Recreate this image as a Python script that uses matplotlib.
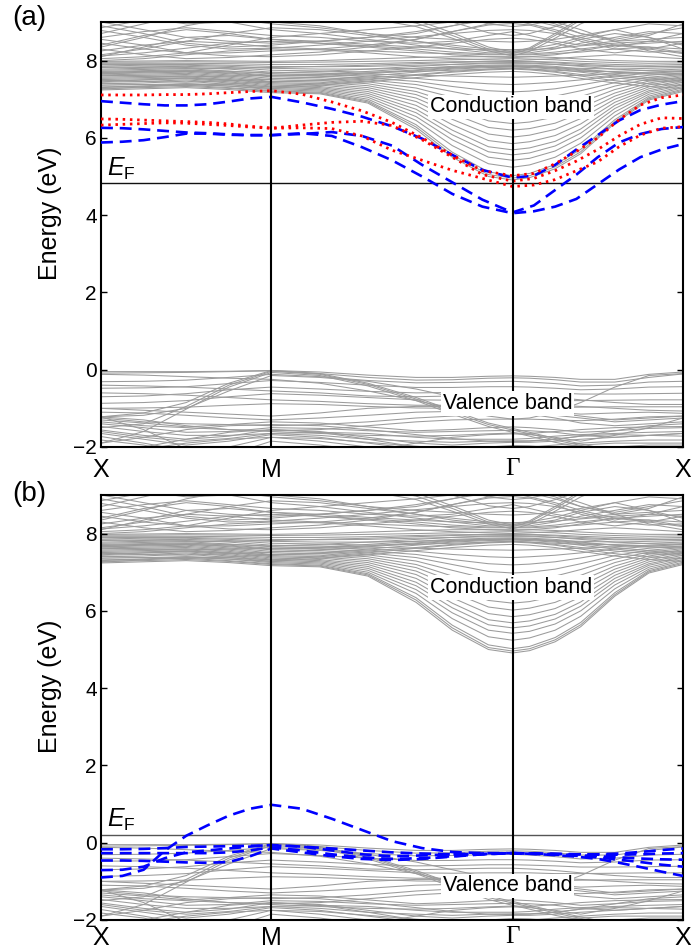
"""
Band structure of a doped slab along X-M-Gamma-X, two configurations:
(a) with defect states inside the gap, (b) with defect states near the valence band.
"""
import numpy as np
import matplotlib
matplotlib.use("Agg")
from matplotlib import pyplot as plt

plt.rcParams['font.family'] = ['Liberation Sans', 'DejaVu Sans']
plt.rcParams['mathtext.fontset'] = 'custom'
plt.rcParams['mathtext.rm'] = 'Liberation Sans'
plt.rcParams['mathtext.it'] = 'Liberation Sans:italic'

# high-symmetry points of the square lattice path
K_LABELS = ['X', 'M', 'Γ', 'X']
K_POINTS = [0.0, 1.0, 1.0 + np.sqrt(2.0), 2.0 + np.sqrt(2.0)]

# k sampling of the host bands (fractions of each segment X-M, M-G, G-X)
HOST_FRACTIONS = [[0, .25, .5, .75, 1],
                  [.2, .4, .6, .75, .9, 1],
                  [.1, .25, .4, .6, .8, 1]]
# k sampling of the defect bands
DEFECT_FRACTIONS = [[0, .125, .25, .375, .5, .625, .75, .875, 1],
                    [.125, .25, .375, .5, .625, .75, .875, 1],
                    [.125, .25, .375, .5, .625, .75, .875, 1]]

E_FERMI_A = 4.82
E_FERMI_B = 0.20

# host conduction bands dipping towards Gamma (eV)
CB_NESTED = [
    [7.24, 7.27, 7.30, 7.25, 7.17, 7.14, 6.90, 6.22, 5.50, 5.00, 4.91, 4.97, 5.20, 5.59, 6.38, 6.98, 7.20],
    [7.28, 7.30, 7.33, 7.28, 7.20, 7.16, 6.93, 6.28, 5.56, 5.05, 4.96, 5.02, 5.25, 5.64, 6.42, 7.01, 7.23],
    [7.32, 7.34, 7.36, 7.30, 7.22, 7.18, 6.96, 6.34, 5.63, 5.12, 5.02, 5.08, 5.31, 5.70, 6.47, 7.04, 7.26],
    [7.36, 7.38, 7.40, 7.34, 7.25, 7.21, 7.00, 6.45, 5.80, 5.33, 5.24, 5.30, 5.50, 5.86, 6.57, 7.08, 7.30],
    [7.40, 7.42, 7.47, 7.38, 7.28, 7.24, 7.05, 6.55, 5.95, 5.50, 5.42, 5.47, 5.66, 6.00, 6.67, 7.13, 7.33],
    [7.44, 7.46, 7.50, 7.42, 7.31, 7.27, 7.10, 6.65, 6.08, 5.64, 5.56, 5.61, 5.79, 6.12, 6.76, 7.18, 7.37],
    [7.48, 7.50, 7.53, 7.45, 7.34, 7.30, 7.15, 6.74, 6.20, 5.77, 5.69, 5.74, 5.91, 6.23, 6.84, 7.22, 7.40],
    [7.51, 7.53, 7.55, 7.48, 7.37, 7.33, 7.20, 6.84, 6.34, 5.93, 5.85, 5.90, 6.06, 6.36, 6.92, 7.27, 7.44],
    [7.54, 7.56, 7.58, 7.51, 7.40, 7.37, 7.25, 6.94, 6.48, 6.10, 6.02, 6.07, 6.22, 6.50, 7.00, 7.32, 7.48],
    [7.57, 7.59, 7.61, 7.54, 7.43, 7.40, 7.30, 7.03, 6.63, 6.27, 6.20, 6.24, 6.38, 6.64, 7.08, 7.37, 7.52],
    [7.60, 7.62, 7.64, 7.57, 7.46, 7.44, 7.35, 7.12, 6.77, 6.44, 6.37, 6.41, 6.54, 6.78, 7.16, 7.42, 7.55],
    [7.63, 7.65, 7.67, 7.60, 7.50, 7.48, 7.40, 7.20, 6.90, 6.62, 6.56, 6.60, 6.71, 6.92, 7.25, 7.47, 7.58],
    [7.66, 7.68, 7.70, 7.63, 7.54, 7.52, 7.45, 7.29, 7.05, 6.82, 6.77, 6.80, 6.90, 7.07, 7.34, 7.52, 7.61],
    [7.69, 7.71, 7.73, 7.66, 7.58, 7.56, 7.50, 7.38, 7.20, 7.02, 6.98, 7.00, 7.08, 7.22, 7.43, 7.57, 7.64],
    [7.72, 7.74, 7.76, 7.70, 7.62, 7.60, 7.55, 7.46, 7.33, 7.22, 7.19, 7.21, 7.27, 7.37, 7.52, 7.62, 7.68],
    [7.75, 7.77, 7.79, 7.73, 7.66, 7.64, 7.60, 7.54, 7.46, 7.40, 7.38, 7.40, 7.44, 7.50, 7.60, 7.67, 7.72],
]

# host conduction bands in the flat, dense part around 7.3-8.1 eV
CB_FLAT = [
    [7.78, 7.80, 7.82, 7.78, 7.70, 7.68, 7.65, 7.62, 7.60, 7.58, 7.57, 7.58, 7.60, 7.62, 7.66, 7.70, 7.74],
    [7.82, 7.84, 7.85, 7.82, 7.75, 7.73, 7.70, 7.72, 7.75, 7.78, 7.80, 7.78, 7.75, 7.72, 7.72, 7.75, 7.78],
    [7.86, 7.88, 7.88, 7.85, 7.80, 7.78, 7.78, 7.80, 7.83, 7.85, 7.86, 7.85, 7.82, 7.80, 7.78, 7.80, 7.82],
    [7.90, 7.90, 7.90, 7.88, 7.85, 7.84, 7.85, 7.88, 7.90, 7.92, 7.92, 7.92, 7.90, 7.87, 7.84, 7.84, 7.86],
    [7.93, 7.93, 7.93, 7.92, 7.90, 7.90, 7.92, 7.95, 7.97, 7.98, 7.98, 7.98, 7.96, 7.93, 7.90, 7.88, 7.90],
    [7.96, 7.96, 7.97, 7.96, 7.95, 7.96, 7.98, 8.00, 8.02, 8.04, 8.05, 8.04, 8.02, 7.98, 7.95, 7.93, 7.94],
    [7.30, 7.34, 7.40, 7.38, 7.32, 7.40, 7.50, 7.62, 7.70, 7.76, 7.78, 7.76, 7.70, 7.60, 7.48, 7.40, 7.35],
    [7.45, 7.50, 7.55, 7.50, 7.45, 7.50, 7.60, 7.70, 7.78, 7.82, 7.83, 7.82, 7.78, 7.70, 7.60, 7.52, 7.48],
    [7.62, 7.60, 7.58, 7.60, 7.62, 7.65, 7.72, 7.80, 7.85, 7.88, 7.89, 7.88, 7.85, 7.78, 7.70, 7.65, 7.63],
    [7.70, 7.72, 7.74, 7.72, 7.68, 7.72, 7.78, 7.85, 7.90, 7.94, 7.95, 7.94, 7.90, 7.85, 7.78, 7.74, 7.72],
    [7.26, 7.32, 7.38, 7.34, 7.28, 7.36, 7.45, 7.56, 7.64, 7.70, 7.72, 7.70, 7.64, 7.54, 7.42, 7.33, 7.28],
    [7.50, 7.46, 7.44, 7.48, 7.52, 7.58, 7.66, 7.74, 7.80, 7.84, 7.85, 7.84, 7.80, 7.74, 7.64, 7.56, 7.52],
    [7.66, 7.70, 7.72, 7.68, 7.60, 7.62, 7.68, 7.76, 7.82, 7.86, 7.87, 7.86, 7.82, 7.76, 7.70, 7.68, 7.67],
    [7.84, 7.82, 7.80, 7.80, 7.82, 7.85, 7.88, 7.92, 7.95, 7.97, 7.97, 7.97, 7.94, 7.90, 7.86, 7.85, 7.84],
    [7.98, 7.99, 8.00, 7.99, 7.98, 8.00, 8.04, 8.08, 8.10, 8.10, 8.10, 8.10, 8.08, 8.04, 8.00, 7.98, 7.98],
    [7.40, 7.38, 7.36, 7.40, 7.45, 7.48, 7.55, 7.64, 7.72, 7.78, 7.80, 7.78, 7.72, 7.64, 7.55, 7.48, 7.44],
]

# host conduction bands above 8 eV
CB_UPPER = [
    [9.50, 9.50, 9.50, 9.50, 9.50, 9.40, 9.20, 8.97, 8.65, 8.30, 8.18, 8.30, 8.65, 9.05, 9.40, 9.50, 9.50],
    [9.50, 9.50, 9.50, 9.50, 9.50, 9.50, 9.30, 9.05, 8.72, 8.35, 8.22, 8.33, 8.70, 9.10, 9.50, 9.50, 9.50],
    [9.50, 9.50, 9.50, 9.50, 9.50, 9.30, 9.10, 8.88, 8.58, 8.25, 8.12, 8.24, 8.58, 8.95, 9.30, 9.50, 9.50],
    [9.30, 9.10, 8.95, 9.00, 9.20, 9.50, 9.50, 9.30, 9.00, 8.72, 8.65, 8.70, 8.88, 9.10, 9.40, 9.50, 9.50],
    [9.50, 9.50, 9.30, 9.20, 9.30, 9.50, 9.50, 9.50, 9.20, 8.95, 8.88, 8.92, 9.05, 9.30, 9.50, 9.50, 9.50],
    [8.00, 8.05, 8.15, 8.25, 8.30, 8.28, 8.20, 8.10, 8.05, 8.02, 8.00, 8.02, 8.05, 8.10, 8.15, 8.10, 8.05],
    [8.10, 8.35, 8.60, 8.65, 8.55, 8.45, 8.35, 8.25, 8.15, 8.10, 8.08, 8.10, 8.15, 8.25, 8.40, 8.35, 8.20],
    [8.35, 8.60, 8.90, 9.10, 9.00, 8.90, 8.70, 8.50, 8.35, 8.25, 8.22, 8.25, 8.35, 8.55, 8.70, 8.60, 8.40],
    [8.55, 8.40, 8.20, 8.20, 8.25, 8.30, 8.40, 8.55, 8.75, 8.95, 9.05, 8.95, 8.80, 8.60, 8.40, 8.45, 8.50],
    [8.90, 8.70, 8.45, 8.35, 8.40, 8.50, 8.60, 8.70, 8.90, 9.10, 9.20, 9.10, 8.95, 8.70, 8.55, 8.70, 8.85],
    [8.70, 8.95, 9.20, 9.00, 8.80, 8.70, 8.55, 8.40, 8.30, 8.20, 8.20, 8.20, 8.30, 8.45, 8.60, 8.75, 8.70],
    [8.05, 8.10, 8.20, 8.40, 8.60, 8.70, 8.80, 8.90, 9.00, 9.10, 9.10, 9.10, 9.00, 8.80, 8.50, 8.25, 8.10],
    [8.45, 8.30, 8.20, 8.12, 8.10, 8.15, 8.25, 8.35, 8.45, 8.55, 8.58, 8.55, 8.45, 8.30, 8.20, 8.30, 8.45],
    [9.00, 8.80, 8.60, 8.50, 8.45, 8.50, 8.60, 8.75, 8.90, 9.05, 9.10, 9.05, 8.90, 8.70, 8.50, 8.65, 8.95],
    [8.25, 8.40, 8.50, 8.45, 8.35, 8.30, 8.25, 8.20, 8.18, 8.15, 8.15, 8.15, 8.18, 8.22, 8.30, 8.35, 8.30],
    [8.60, 8.75, 8.85, 8.75, 8.65, 8.60, 8.50, 8.45, 8.50, 8.65, 8.75, 8.65, 8.50, 8.40, 8.50, 8.55, 8.60],
    [8.15, 8.30, 8.50, 8.70, 8.85, 8.80, 8.65, 8.50, 8.40, 8.30, 8.28, 8.30, 8.42, 8.60, 8.80, 8.60, 8.30],
    [8.78, 8.60, 8.40, 8.30, 8.32, 8.40, 8.50, 8.62, 8.70, 8.78, 8.80, 8.78, 8.70, 8.55, 8.35, 8.50, 8.70],
    [8.40, 8.65, 8.80, 8.70, 8.55, 8.50, 8.42, 8.35, 8.30, 8.28, 8.27, 8.28, 8.32, 8.38, 8.45, 8.50, 8.45],
    [8.30, 8.15, 8.05, 8.08, 8.15, 8.22, 8.35, 8.55, 8.75, 8.92, 8.96, 8.92, 8.75, 8.50, 8.30, 8.22, 8.25],
    [8.85, 9.05, 9.20, 9.10, 8.95, 8.85, 8.70, 8.60, 8.55, 8.50, 8.48, 8.50, 8.55, 8.65, 8.80, 8.95, 8.90],
    [8.12, 8.20, 8.32, 8.45, 8.50, 8.45, 8.38, 8.30, 8.22, 8.17, 8.16, 8.17, 8.22, 8.30, 8.40, 8.30, 8.18],
]

# host valence bands near the top
VB_TOP = [
    [-0.05, -0.05, -0.05, -0.04, -0.02, -0.06, -0.14, -0.20, -0.20, -0.17, -0.16, -0.17, -0.20, -0.25, -0.25, -0.12, -0.06],
    [-0.09, -0.08, -0.07, -0.05, -0.03, -0.10, -0.20, -0.27, -0.26, -0.22, -0.21, -0.22, -0.26, -0.32, -0.32, -0.20, -0.11],
    [-0.31, -0.30, -0.27, -0.20, -0.12, -0.18, -0.28, -0.34, -0.33, -0.31, -0.30, -0.32, -0.36, -0.42, -0.40, -0.32, -0.30],
    [-0.48, -0.47, -0.44, -0.36, -0.28, -0.33, -0.40, -0.46, -0.46, -0.44, -0.44, -0.45, -0.48, -0.52, -0.50, -0.45, -0.44],
    [-0.70, -0.68, -0.62, -0.52, -0.45, -0.50, -0.56, -0.60, -0.59, -0.57, -0.57, -0.58, -0.60, -0.63, -0.63, -0.62, -0.61],
    [-0.87, -0.85, -0.80, -0.70, -0.62, -0.66, -0.72, -0.78, -0.79, -0.78, -0.78, -0.78, -0.80, -0.80, -0.79, -0.78, -0.78],
    [-1.00, -0.99, -0.97, -0.92, -0.88, -0.90, -0.95, -0.99, -1.00, -0.99, -0.99, -0.99, -0.98, -0.97, -0.96, -0.96, -0.96],
    [-0.60, -0.62, -0.66, -0.72, -0.78, -0.82, -0.88, -0.92, -0.92, -0.90, -0.89, -0.90, -0.92, -0.95, -1.00, -1.05, -1.07],
    [-0.40, -0.42, -0.45, -0.50, -0.55, -0.60, -0.68, -0.70, -0.68, -0.66, -0.66, -0.68, -0.72, -0.78, -0.85, -0.90, -0.90],
]

# host valence bands crossing from X to M and back down towards Gamma
VB_CROSS = [
    [-1.22, -1.12, -0.85, -0.35, -0.02, -0.10, -0.35, -0.72, -1.05, -1.38, -1.52, -1.62, -1.78, -1.92, -2.10, -2.20, -2.20],
    [-1.50, -1.40, -0.95, -0.40, -0.04, -0.12, -0.38, -0.76, -1.10, -1.42, -1.56, -1.66, -1.82, -1.96, -2.15, -2.20, -2.20],
    [-1.90, -1.60, -1.02, -0.45, -0.07, -0.15, -0.42, -0.80, -1.15, -1.47, -1.62, -1.72, -1.88, -2.00, -2.20, -2.20, -2.20],
    [-1.22, -1.18, -1.00, -0.55, -0.15, -0.20, -0.30, -0.50, -0.70, -0.90, -1.00, -1.05, -1.12, -1.20, -1.30, -1.25, -1.20],
    [-0.12, -0.14, -0.18, -0.22, -0.25, -0.35, -0.55, -0.80, -1.00, -1.20, -1.28, -1.25, -1.10, -0.85, -0.45, -0.15, -0.10],
]

# host valence bands deeper down
VB_LOW = [
    [-1.22, -1.30, -1.45, -1.55, -1.58, -1.55, -1.45, -1.35, -1.30, -1.28, -1.28, -1.28, -1.30, -1.32, -1.28, -1.22, -1.20],
    [-1.22, -1.55, -2.05, -2.20, -2.20, -2.20, -2.10, -1.90, -1.75, -1.68, -1.66, -1.68, -1.75, -1.85, -1.70, -1.50, -1.25],
    [-1.25, -1.35, -1.40, -1.42, -1.45, -1.42, -1.35, -1.25, -1.20, -1.15, -1.13, -1.14, -1.18, -1.25, -1.35, -1.30, -1.25],
    [-1.35, -1.45, -1.50, -1.55, -1.60, -1.65, -1.70, -1.72, -1.70, -1.66, -1.64, -1.65, -1.60, -1.55, -1.50, -1.48, -1.47],
    [-1.47, -1.60, -1.70, -1.70, -1.65, -1.62, -1.65, -1.75, -1.80, -1.80, -1.80, -1.78, -1.72, -1.68, -1.65, -1.62, -1.60],
    [-1.56, -1.70, -1.80, -1.72, -1.55, -1.60, -1.75, -1.90, -1.95, -1.90, -1.88, -1.88, -1.85, -1.80, -1.75, -1.70, -1.65],
    [-1.65, -1.80, -1.95, -1.85, -1.68, -1.75, -1.90, -2.05, -2.10, -2.05, -2.00, -2.00, -1.95, -1.90, -1.85, -1.82, -1.82],
    [-1.73, -1.90, -2.10, -2.00, -1.75, -1.85, -2.00, -2.20, -2.20, -2.20, -2.20, -2.10, -2.00, -1.95, -1.90, -1.90, -1.90],
    [-1.82, -1.95, -2.20, -2.20, -1.85, -1.95, -2.10, -2.20, -2.20, -2.20, -2.20, -2.20, -2.20, -2.10, -2.00, -1.95, -1.95],
    [-1.00, -1.05, -1.10, -1.15, -1.20, -1.12, -1.00, -0.95, -0.95, -1.00, -1.02, -1.05, -1.10, -1.15, -1.12, -1.10, -1.13],
    [-2.20, -2.00, -1.80, -1.62, -1.55, -1.62, -1.80, -2.00, -2.20, -2.20, -2.20, -2.20, -2.20, -2.20, -2.20, -2.20, -2.20],
    [-1.10, -1.12, -1.18, -1.25, -1.30, -1.25, -1.18, -1.10, -1.08, -1.10, -1.12, -1.15, -1.25, -1.38, -1.45, -1.40, -1.35],
    [-1.30, -1.38, -1.48, -1.42, -1.35, -1.38, -1.48, -1.58, -1.55, -1.50, -1.48, -1.50, -1.55, -1.62, -1.58, -1.52, -1.50],
    [-1.40, -1.50, -1.62, -1.60, -1.50, -1.52, -1.58, -1.62, -1.60, -1.58, -1.57, -1.58, -1.62, -1.70, -1.75, -1.70, -1.65],
    [-1.60, -1.75, -1.85, -1.78, -1.65, -1.70, -1.80, -1.85, -1.88, -1.85, -1.84, -1.84, -1.80, -1.72, -1.68, -1.70, -1.72],
    [-1.90, -1.75, -1.55, -1.45, -1.42, -1.45, -1.55, -1.68, -1.78, -1.85, -1.86, -1.85, -1.80, -1.72, -1.58, -1.45, -1.40],
    [-2.20, -2.05, -1.90, -1.80, -1.75, -1.78, -1.88, -1.98, -2.05, -2.00, -1.96, -1.97, -2.02, -2.10, -2.10, -2.05, -2.00],
]

# defect bands of configuration (a), blue = spin up, red = spin down
A_BLUE = [
    [6.95, 6.91, 6.87, 6.84, 6.84, 6.87, 6.94, 7.02, 7.06,
     6.92, 6.75, 6.55, 6.30, 5.98, 5.56, 5.17, 4.97,
     5.02, 5.30, 5.70, 6.07, 6.45, 6.72, 6.86, 6.95],
    [6.26, 6.25, 6.22, 6.18, 6.14, 6.12, 6.09, 6.07, 6.07,
     6.10, 6.15, 6.05, 5.80, 5.30, 4.85, 4.40, 4.07,
     4.25, 4.65, 5.05, 5.50, 5.88, 6.10, 6.23, 6.28],
    [5.88, 5.90, 5.94, 6.02, 6.11, 6.11, 6.08, 6.07, 6.07,
     6.12, 6.05, 5.76, 5.42, 5.00, 4.55, 4.22, 4.05,
     4.10, 4.22, 4.42, 4.80, 5.18, 5.50, 5.70, 5.84],
]
A_RED = [
    [7.11, 7.11, 7.11, 7.12, 7.12, 7.14, 7.17, 7.20, 7.22,
     7.13, 6.93, 6.70, 6.40, 6.00, 5.55, 5.15, 5.02,
     5.08, 5.33, 5.65, 6.00, 6.47, 6.85, 7.04, 7.11],
    [6.49, 6.48, 6.46, 6.44, 6.42, 6.40, 6.36, 6.30, 6.25,
     6.33, 6.40, 6.43, 6.32, 5.95, 5.50, 5.05, 4.88,
     4.95, 5.15, 5.40, 5.70, 6.05, 6.35, 6.52, 6.50],
    [6.33, 6.35, 6.37, 6.39, 6.38, 6.35, 6.32, 6.28, 6.25,
     6.26, 6.24, 6.05, 5.68, 5.42, 5.16, 4.95, 4.74,
     4.78, 4.92, 5.15, 5.38, 5.77, 6.07, 6.25, 6.29],
]

# defect bands of configuration (b)
B_BLUE = [
    [-0.90, -0.86, -0.70, -0.20, 0.18, 0.45, 0.70, 0.88, 0.98,
     0.88, 0.62, 0.33, 0.04, -0.14, -0.24, -0.27, -0.27,
     -0.29, -0.32, -0.36, -0.42, -0.52, -0.63, -0.75, -0.86],
    [-0.17, -0.17, -0.16, -0.14, -0.11, -0.10, -0.09, -0.08, -0.07,
     -0.10, -0.15, -0.20, -0.25, -0.28, -0.30, -0.29, -0.27,
     -0.28, -0.29, -0.30, -0.30, -0.28, -0.24, -0.19, -0.15],
    [-0.27, -0.27, -0.27, -0.27, -0.27, -0.27, -0.25, -0.20, -0.12,
     -0.20, -0.30, -0.38, -0.42, -0.40, -0.35, -0.30, -0.27,
     -0.28, -0.29, -0.30, -0.31, -0.31, -0.30, -0.28, -0.27],
    [-0.46, -0.46, -0.47, -0.49, -0.51, -0.52, -0.50, -0.35, -0.15,
     -0.25, -0.35, -0.42, -0.45, -0.42, -0.36, -0.30, -0.27,
     -0.28, -0.30, -0.32, -0.35, -0.38, -0.41, -0.43, -0.44],
    [-0.71, -0.70, -0.62, -0.40, -0.25, -0.20, -0.15, -0.10, -0.06,
     -0.10, -0.20, -0.30, -0.35, -0.33, -0.30, -0.28, -0.27,
     -0.29, -0.31, -0.34, -0.38, -0.44, -0.50, -0.57, -0.62],
]


def k_grid(fractions):
    """
    Returns k positions along X-M-Gamma-X for the given segment fractions.
    """
    k = []
    for i, seg in enumerate(fractions):
        k0, k1 = K_POINTS[i], K_POINTS[i + 1]
        k.extend(k0 + f * (k1 - k0) for f in seg)
    return np.array(k)


def plot_panel(ax, blue, red, e_fermi, ef_color, cb_y, vb_y, label_pad):
    """
    Draws host bands, defect bands, Fermi level and labels into one axes.
    """
    k_host = k_grid(HOST_FRACTIONS)
    k_def = k_grid(DEFECT_FRACTIONS)

    for band in CB_NESTED + CB_FLAT + CB_UPPER + VB_TOP + VB_CROSS + VB_LOW:
        ax.plot(k_host, band, color='#9b9b9b', lw=0.75, zorder=1)

    ax.axhline(e_fermi, color=ef_color, lw=1.0, zorder=2)

    for band in blue:
        ax.plot(k_def, band, color='#0000ff', lw=1.9, dashes=(4.5, 2.6), zorder=3)
    for band in red:
        ax.plot(k_def, band, color='#ff0000', lw=2.0, linestyle=(0, (0.9, 1.7)), zorder=4)

    for k in K_POINTS[1:3]:
        ax.axvline(k, color='black', lw=1.5, zorder=5)

    box = dict(boxstyle='square,pad=0.08', fc='white', ec='none')
    ax.text(K_POINTS[2] - 0.01, cb_y, 'Conduction band', ha='center', va='center',
            fontsize=15.5, bbox=box, zorder=6)
    ax.text(K_POINTS[2] - 0.03, vb_y, 'Valence band', ha='center', va='center',
            fontsize=15.5, bbox=box, zorder=6)
    ax.text(0.035, e_fermi + 0.05, r'$E_\mathrm{F}$', ha='left', va='bottom',
            fontsize=18, zorder=6)

    ax.set_xlim(K_POINTS[0], K_POINTS[-1])
    ax.set_ylim(-2, 9)
    ax.set_yticks([-2, 0, 2, 4, 6, 8])
    ax.set_xticks(K_POINTS)
    ax.set_xticklabels(K_LABELS)
    ax.get_xticklabels()[2].set_fontfamily('Liberation Serif')
    ax.tick_params(axis='x', length=0, labelsize=18, pad=label_pad)
    ax.tick_params(axis='y', direction='in', length=4.5, width=1.0,
                   right=True, labelsize=15, pad=3)
    for spine in ax.spines.values():
        spine.set_linewidth(1.5)
    ax.set_ylabel('Energy (eV)', fontsize=18)
    ax.yaxis.set_label_coords(-0.067, 0.55)


def plot():
    fig = plt.figure(figsize=(6.91, 9.50), dpi=100)
    ax_a = fig.add_axes([0.1462, 0.5295, 0.8422, 0.4474])
    ax_b = fig.add_axes([0.1462, 0.0316, 0.8422, 0.4474])

    plot_panel(ax_a, A_BLUE, A_RED, E_FERMI_A, '#111111', 6.8, -0.88, 8)
    plot_panel(ax_b, B_BLUE, [], E_FERMI_B, '#555555', 6.6, -1.12, 4)

    fig.text(0.018, 0.981, '(a)', fontsize=20, ha='left', va='center')
    fig.text(0.018, 0.480, '(b)', fontsize=20, ha='left', va='center')

    fig.savefig('out.png', dpi=100)


if __name__ == '__main__':
    plot()
